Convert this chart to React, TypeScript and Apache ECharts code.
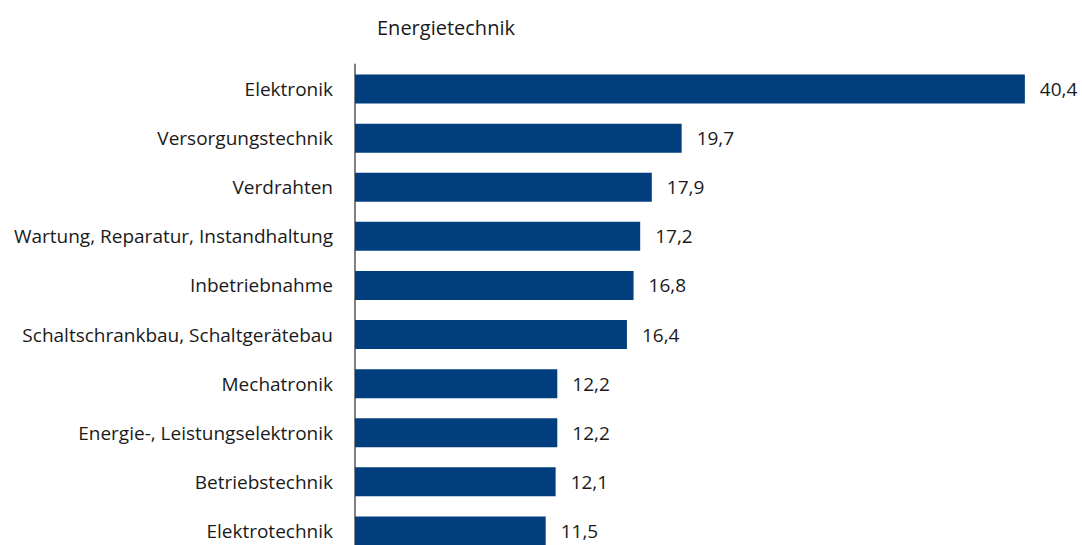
import React, { useEffect, useRef } from "react";
import * as echarts from "echarts";

const categories = [
  "Elektronik",
  "Versorgungstechnik",
  "Verdrahten",
  "Wartung, Reparatur, Instandhaltung",
  "Inbetriebnahme",
  "Schaltschrankbau, Schaltgerätebau",
  "Mechatronik",
  "Energie-, Leistungselektronik",
  "Betriebstechnik",
  "Elektrotechnik",
];
const values = [40.4, 19.7, 17.9, 17.2, 16.8, 16.4, 12.2, 12.2, 12.1, 11.5];
const titleText = "Energietechnik";

export default function App() {
  const ref = useRef<HTMLDivElement>(null);
  useEffect(() => {
    if (!ref.current) return;
    const chart = echarts.init(ref.current, undefined, { renderer: "svg" });
    const font = "'Open Sans', sans-serif";
    chart.setOption({
      animation: false,
      title: {
        text: titleText,
        left: 372,
        top: 12,
        textStyle: { fontFamily: font, fontSize: 20, fontWeight: "normal", color: "#1a1a1a" },
      },
      grid: { left: 355, width: 696.4, top: 64.5, height: 491 },
      xAxis: {
        type: "value",
        min: 0,
        max: 42,
        show: false,
      },
      yAxis: {
        type: "category",
        inverse: true,
        data: categories,
        axisLine: { show: true, lineStyle: { color: "#808080", width: 2 } },
        axisTick: { show: false },
        axisLabel: { margin: 22, fontFamily: font, fontSize: 19, color: "#1a1a1a" },
      },
      series: [
        {
          type: "bar",
          data: values,
          barWidth: 29,
          itemStyle: { color: "#003e7e" },
          label: {
            show: true,
            position: "right",
            distance: 15,
            fontFamily: font,
            fontSize: 19,
            color: "#1a1a1a",
            formatter: (p: any) => String(p.value.toFixed(1)).replace(".", ","),
          },
        },
      ],
    });
    return () => chart.dispose();
  }, []);
  return (
    <div style={{ position: "fixed", left: 0, top: 0, width: 1082, height: 545, overflow: "hidden", background: "#fff" }}>
      <div ref={ref} style={{ width: 1082, height: 575 }} />
    </div>
  );
}
